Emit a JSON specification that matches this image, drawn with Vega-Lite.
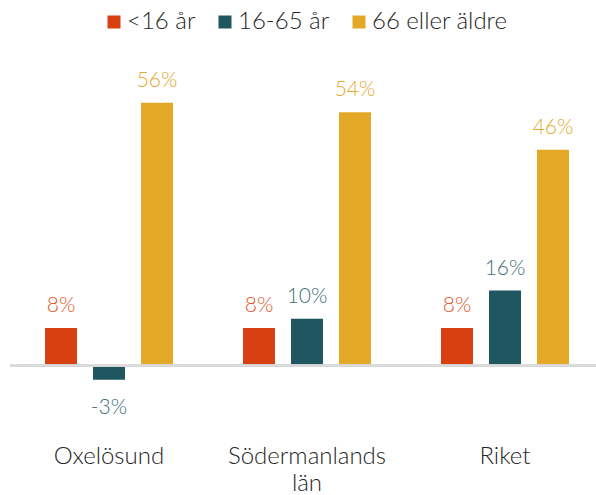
{
  "$schema": "https://vega.github.io/schema/vega-lite/v6.json",
  "width": 586,
  "height": 338,
  "autosize": {"type": "none"},
  "padding": {"left": 10, "top": 84, "right": 0, "bottom": 73},
  "background": "white",
  "config": {
    "view": {"stroke": null},
    "font": "Lato",
    "locale": {"number": {"decimal": ",", "thousands": " ", "grouping": [3], "currency": ["", " kr"], "minus": "-", "percent": "%"}}
  },
  "data": {
    "values": [
      {"region": "Oxelösund", "grupp": "<16 år", "value": 0.08},
      {"region": "Oxelösund", "grupp": "16-65 år", "value": -0.03},
      {"region": "Oxelösund", "grupp": "66 eller äldre", "value": 0.56},
      {"region": "Södermanlands län", "grupp": "<16 år", "value": 0.08},
      {"region": "Södermanlands län", "grupp": "16-65 år", "value": 0.10},
      {"region": "Södermanlands län", "grupp": "66 eller äldre", "value": 0.54},
      {"region": "Riket", "grupp": "<16 år", "value": 0.08},
      {"region": "Riket", "grupp": "16-65 år", "value": 0.16},
      {"region": "Riket", "grupp": "66 eller äldre", "value": 0.46}
    ]
  },
  "encoding": {
    "x": {
      "field": "region",
      "type": "nominal",
      "sort": ["Oxelösund", "Södermanlands län", "Riket"],
      "scale": {"range": [0, 594], "paddingInner": 0.2727, "paddingOuter": 0.13636},
      "axis": {
        "title": null,
        "domain": false,
        "ticks": false,
        "labelAngle": 0,
        "labelFont": "Lato",
        "labelFontWeight": 300,
        "labelFontSize": 24,
        "labelColor": "#262626",
        "labelPadding": 22,
        "labelLineHeight": 27,
        "labelBaseline": "top",
        "labelExpr": "datum.label == 'Södermanlands län' ? ['Södermanlands', 'län'] : datum.label"
      }
    },
    "xOffset": {
      "field": "grupp",
      "type": "nominal",
      "sort": ["<16 år", "16-65 år", "66 eller äldre"],
      "scale": {"paddingInner": 0.3333, "paddingOuter": 0.16667}
    },
    "y": {
      "field": "value",
      "type": "quantitative",
      "scale": {"domain": [-0.12, 0.60], "nice": false, "zero": false},
      "axis": null
    }
  },
  "layer": [
    {
      "mark": {"type": "bar"},
      "encoding": {
        "color": {
          "field": "grupp",
          "type": "nominal",
          "sort": ["<16 år", "16-65 år", "66 eller äldre"],
          "scale": {"domain": ["<16 år", "16-65 år", "66 eller äldre"], "range": ["#D84012", "#1F5660", "#E4A829"]},
          "legend": {
            "title": null,
            "orient": "none",
            "direction": "horizontal",
            "legendX": 92,
            "legendY": -74,
            "symbolType": "square",
            "symbolSize": 169,
            "symbolStrokeWidth": 0,
            "labelFont": "Lato",
            "labelFontWeight": 300,
            "labelFontSize": 24,
            "labelColor": "#262626",
            "labelOffset": 1,
            "columnPadding": 17
          }
        }
      }
    },
    {
      "mark": {"type": "rule", "color": "#D9D9D9", "strokeWidth": 2},
      "encoding": {"y": {"datum": 0}, "x": {"value": 0}, "x2": {"value": 586}, "xOffset": null}
    },
    {
      "transform": [{"filter": "datum.value >= 0"}],
      "mark": {"type": "text", "baseline": "alphabetic", "dy": -16, "fontSize": 21, "font": "Lato", "fontWeight": 300},
      "encoding": {
        "text": {"field": "value", "type": "quantitative", "format": ".0%"},
        "color": {
          "field": "grupp",
          "type": "nominal",
          "scale": {"domain": ["<16 år", "16-65 år", "66 eller äldre"], "range": ["#E2592B", "#3E707A", "#E4AA30"]},
          "legend": null
        }
      }
    },
    {
      "transform": [{"filter": "datum.value < 0"}],
      "mark": {"type": "text", "baseline": "alphabetic", "dy": 34, "fontSize": 21, "font": "Lato", "fontWeight": 300},
      "encoding": {
        "text": {"field": "value", "type": "quantitative", "format": ".0%"},
        "color": {
          "field": "grupp",
          "type": "nominal",
          "scale": {"domain": ["<16 år", "16-65 år", "66 eller äldre"], "range": ["#E2592B", "#3E707A", "#E4AA30"]},
          "legend": null
        }
      }
    }
  ],
  "resolve": {"scale": {"color": "independent"}}
}
